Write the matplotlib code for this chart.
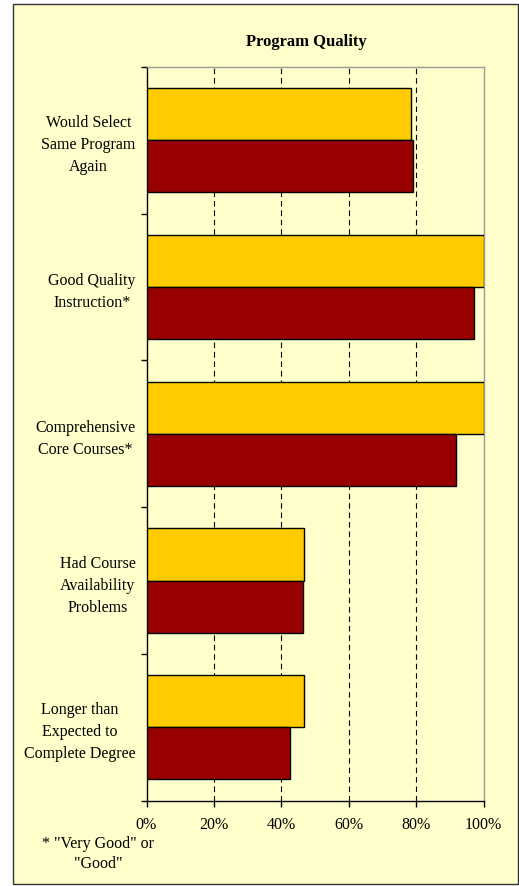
import matplotlib.pyplot as plt
from matplotlib.patches import Rectangle
import numpy as np

# data (percent)
categories = ['Would Select\nSame Program\nAgain',
              'Good Quality\nInstruction*',
              'Comprehensive\nCore Courses*',
              'Had Course\nAvailability\nProblems',
              'Longer than\nExpected to\nComplete Degree']
series_top = [78.5, 100, 100, 46.6, 46.6]
series_bottom = [79.0, 97.3, 91.9, 46.3, 42.7]
x_ticks = [0, 20, 40, 60, 80, 100]
x_tick_labels = ['0%', '20%', '40%', '60%', '80%', '100%']

plt.rcParams['font.family'] = ['Liberation Serif', 'DejaVu Serif']

W, H = 519, 886
fig = plt.figure(figsize=(W / 100, H / 100), dpi=100)
fig.patch.set_facecolor('white')

# chart panel background and border
fig.patches.append(Rectangle((13 / W, 1 - 884 / H), 505 / W, 880 / H,
                             transform=fig.transFigure, facecolor='#FFFFCC',
                             edgecolor='#333333', linewidth=1.0, zorder=-10))

ax = fig.add_axes([146.5 / W, 1 - 800.7 / H, 337 / W, 733.7 / H])
ax.set_facecolor('#FFFFCC')

y = np.arange(len(categories))
h = 0.355
ax.barh(y - h / 2, series_top, height=h, color='#FFCC00',
        edgecolor='black', linewidth=1.0, zorder=3)
ax.barh(y + h / 2, series_bottom, height=h, color='#990000',
        edgecolor='black', linewidth=1.0, zorder=3)

ax.set_xlim(0, 100)
ax.set_ylim(len(categories) - 0.5, -0.5)

# dashed vertical gridlines
for v in x_ticks[1:-1]:
    ax.axvline(v, color='black', linestyle=(0, (5, 3.5)), linewidth=0.8, zorder=1)

ax.set_xticks(x_ticks)
ax.set_xticklabels(x_tick_labels, fontsize=11.5)
ax.tick_params(axis='x', direction='out', length=4, width=1, pad=8)

# category boundaries as major ticks, labels on minor ticks
ax.set_yticks(np.arange(len(categories) + 1) - 0.5)
ax.set_yticklabels([])
ax.set_yticks(y, minor=True)
ax.set_yticklabels(categories, minor=True, fontsize=11.5,
                   multialignment='center', linespacing=1.5)
ax.tick_params(axis='y', which='major', direction='out', length=4, width=1)
ax.tick_params(axis='y', which='minor', length=0, pad=8)

for s in ['left', 'bottom']:
    ax.spines[s].set_color('black')
    ax.spines[s].set_linewidth(1.0)
for s in ['top', 'right']:
    ax.spines[s].set_color('#999999')
    ax.spines[s].set_linewidth(1.0)

fig.text(306 / W, 1 - 42 / H, 'Program Quality', ha='center', va='center',
         fontsize=12, fontweight='bold')
fig.text(98 / W, 1 - 854 / H, '* "Very Good" or\n"Good"', ha='center',
         va='center', fontsize=11.5, multialignment='center', linespacing=1.35)

fig.savefig('out.png', dpi=100)
